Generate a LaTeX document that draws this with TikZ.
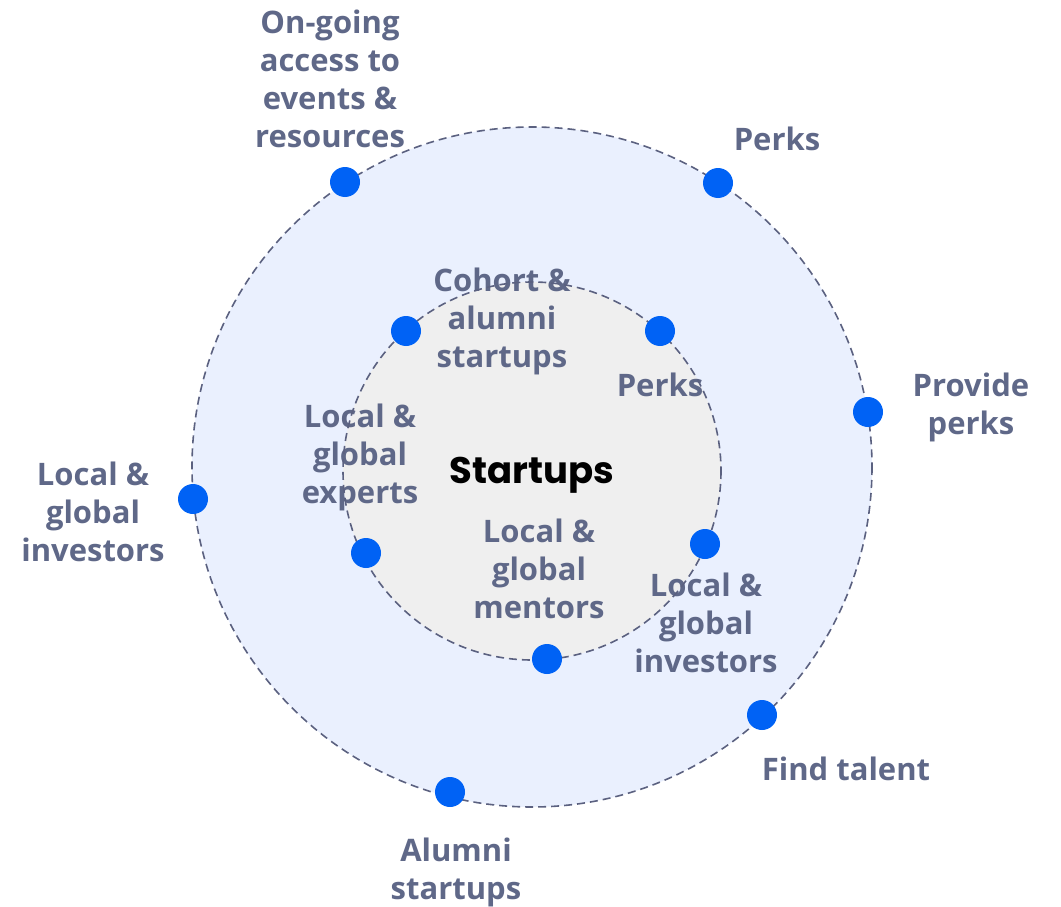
\documentclass[tikz,border=0pt]{standalone}
\usepackage{fontspec}
\setmainfont{Open Sans}
\newfontfamily\popfont{Poppins}
\usetikzlibrary{positioning}
\definecolor{labelgray}{HTML}{5F6888}
\definecolor{ringline}{HTML}{5B6180}
\definecolor{dotblue}{HTML}{0062F5}
\definecolor{outerfill}{HTML}{EAF0FE}
\definecolor{innerfill}{HTML}{EFEFEF}

\begin{document}
\begin{tikzpicture}
    [
        x=1pt, y=-1pt,
        lbl/.style={text=labelgray, align=center, font=\fontsize{31}{38}\selectfont\bfseries, inner sep=0pt},
        dot/.style={circle, fill=dotblue, minimum size=30pt, inner sep=0pt},
        ring/.style={draw=ringline, line width=1.6pt, dash pattern=on 8pt off 5pt}
    ]
    \useasboundingbox (0,0) rectangle (1061,907);

    % the two rings
    \node[circle, fill=outerfill, minimum size=680pt, inner sep=0pt] (outer) at (532,467) {};
    \node[circle, fill=innerfill, minimum size=378pt, inner sep=0pt] (inner) at (532,471) {};

    % labels of the outer ring
    \node[lbl] (access) at (330,79) {On-going\\access to\\events \&\\resources};
    \node[lbl] (operks) at (777,139) {Perks};
    \node[lbl] (provide) at (971,407) {Provide\\perks};
    \node[lbl] (oinvest) at (93,512) {Local \&\\global\\investors};
    \node[lbl] (talent) at (846,769) {Find talent};
    \node[lbl] (alumni) at (456,872) {Alumni\\startups};

    % labels of the inner ring
    \node[lbl] (cohort) at (502,321) {Cohort \&\\alumni\\startups};
    \node[lbl] (iperks) at (660,385) {Perks};
    \node[lbl] (experts) at (360,457) {Local \&\\global\\experts};
    \node[lbl] (mentors) at (539,569) {Local \&\\global\\mentors};
    \node[lbl] (iinvest) at (706,623) {Local \&\\global\\investors};
    \node[font=\fontsize{37}{42}\popfont\bfseries, inner sep=0pt] (startups) at (532,475) {Startups};

    \draw[ring] (outer.center) circle (340);
    \draw[ring] (inner.center) circle (189);

    % dots on the outer ring
    \node[dot] (d1) at (345,182) {};
    \node[dot] (d2) at (718,183) {};
    \node[dot] (d3) at (868,412) {};
    \node[dot] (d4) at (193,499) {};
    \node[dot] (d5) at (762,715) {};
    \node[dot] (d6) at (450,792) {};

    % dots on the inner ring
    \node[dot] (e1) at (406,331) {};
    \node[dot] (e2) at (660,331) {};
    \node[dot] (e3) at (366,553) {};
    \node[dot] (e4) at (705,544) {};
    \node[dot] (e5) at (547,659) {};
\end{tikzpicture}
\end{document}
